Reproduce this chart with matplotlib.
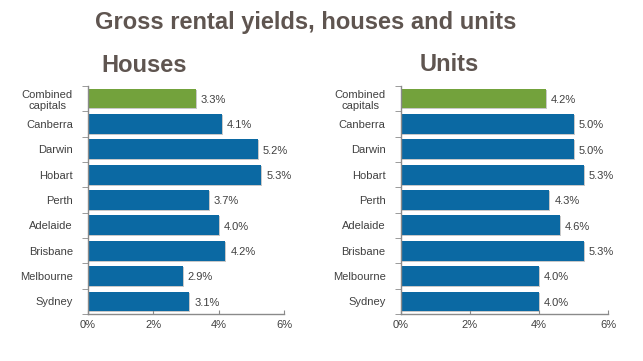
import matplotlib
matplotlib.use("Agg")
import matplotlib.pyplot as plt
import numpy as np

plt.rcParams['font.family'] = ['Liberation Sans', 'DejaVu Sans']

categories = ["Combined\ncapitals", "Canberra", "Darwin", "Hobart", "Perth",
              "Adelaide", "Brisbane", "Melbourne", "Sydney"]
houses = [3.3, 4.1, 5.2, 5.3, 3.7, 4.0, 4.2, 2.9, 3.1]
units = [4.2, 5.0, 5.0, 5.3, 4.3, 4.6, 5.3, 4.0, 4.0]
xticks = [0, 2, 4, 6]
xticklabels = ["0%", "2%", "4%", "6%"]

BLUE = "#0b69a3"
GREEN = "#73a23c"
TEXT = "#404040"
TITLE = "#5f5550"
AXIS = "#8a8a8a"

fig = plt.figure(figsize=(6.43, 3.61), dpi=100)
fig.patch.set_facecolor("white")

fig.text(0.475, 0.920, "Gross rental yields, houses and units", ha="center", va="baseline",
         fontsize=17, fontweight="bold", color=TITLE)
fig.text(0.157, 0.801, "Houses", ha="left", va="baseline", fontsize=17,
         fontweight="bold", color=TITLE)
fig.text(0.653, 0.803, "Units", ha="left", va="baseline", fontsize=17,
         fontweight="bold", color=TITLE)


def panel(rect, values):
    ax = fig.add_axes(rect)
    n = len(categories)
    y = np.arange(n)
    colors = [GREEN] + [BLUE] * (n - 1)
    # subtle shadow
    ax.barh(y + 0.04, values, height=0.78, left=0.03, color="#c8c8c8", zorder=1)
    ax.barh(y, values, height=0.78, color=colors, zorder=2)
    for yi, v in zip(y, values):
        ax.text(v + 0.15, yi + 0.05, f"{v:.1f}%", va="center", ha="left",
                fontsize=8, color=TEXT)
    ax.set_xlim(0, 6)
    ax.set_ylim(n - 0.5, -0.5)
    ax.set_xticks(xticks)
    ax.set_xticklabels(xticklabels, fontsize=8, color=TEXT)
    ax.set_yticks(y)
    ax.set_yticklabels(categories, fontsize=8, color=TEXT, multialignment="center")
    ax.tick_params(axis="y", length=0, pad=11)
    ax.set_yticks(np.arange(-0.5, n, 1.0), minor=True)
    ax.tick_params(axis="y", which="minor", length=4, color=AXIS, direction="out")
    ax.tick_params(axis="x", length=3, direction="in", color=AXIS, pad=4)
    for s in ["top", "right"]:
        ax.spines[s].set_visible(False)
    for s in ["left", "bottom"]:
        ax.spines[s].set_color(AXIS)
        ax.spines[s].set_linewidth(1.0)
    return ax


panel([0.137, 0.130, 0.305, 0.632], houses)
panel([0.6236, 0.130, 0.322, 0.632], units)

fig.savefig("out.png", dpi=100, facecolor="white")
